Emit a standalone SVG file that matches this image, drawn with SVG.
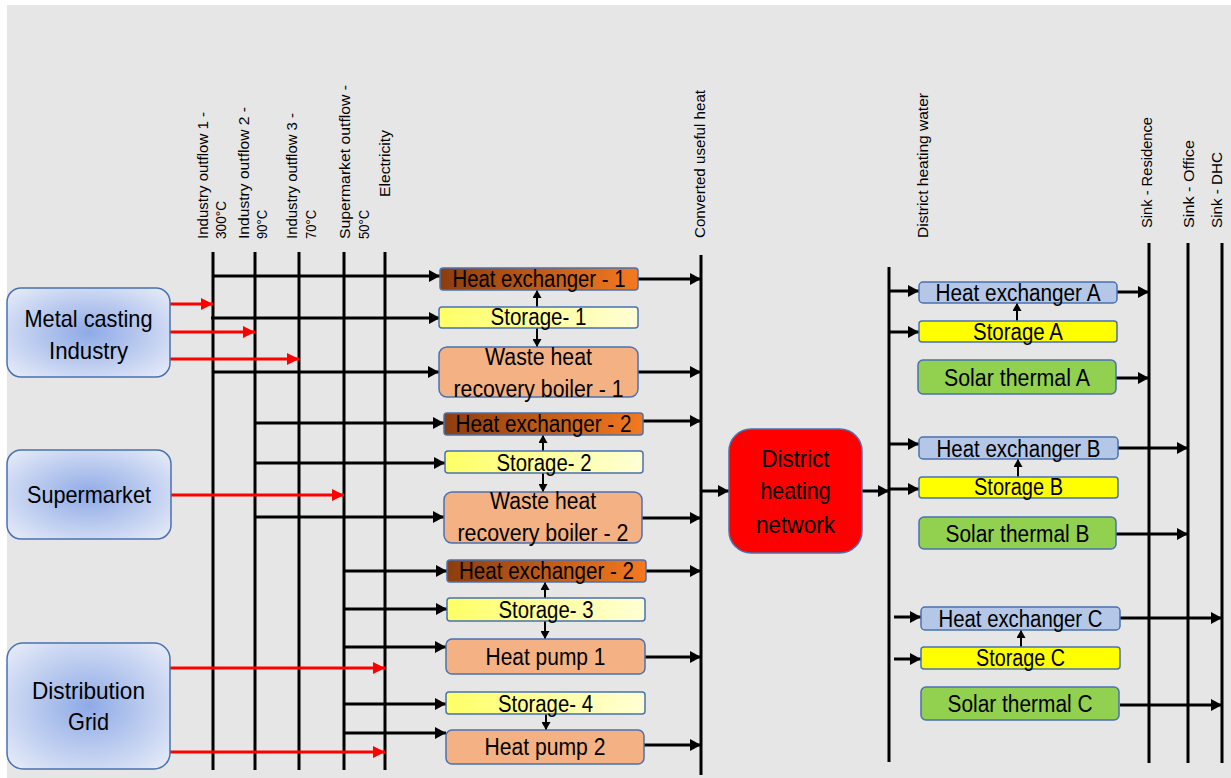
<svg xmlns="http://www.w3.org/2000/svg" width="1231" height="778" viewBox="0 0 1231 778">
<style>
.lbl{font-family:"Liberation Sans",Arial,sans-serif;font-size:14px;fill:#000}
.t{font-family:"Liberation Sans",Arial,sans-serif;fill:#000;text-anchor:middle}
.t22{font-size:24px}
.t21{font-size:23px}
.t20{font-size:23px}
.bus{stroke:#000;stroke-width:3;fill:none}
.ab{stroke:#000;stroke-width:3;fill:none;marker-end:url(#mb)}
.ar{stroke:#ff0000;stroke-width:3;fill:none;marker-end:url(#mr)}
.as{stroke:#000;stroke-width:2;fill:none;marker-end:url(#ms)}
.nb{stroke:#4a72b0;stroke-width:1.5}
</style>
<defs>
<marker id="mb" markerUnits="userSpaceOnUse" markerWidth="12" markerHeight="12" refX="11" refY="6" orient="auto"><path d="M0,0 L11,6 L0,12 z" fill="#000"/></marker>
<marker id="mr" markerUnits="userSpaceOnUse" markerWidth="13" markerHeight="12" refX="12" refY="6" orient="auto"><path d="M0,0 L12,6 L0,12 z" fill="#ff0000"/></marker>
<marker id="ms" markerUnits="userSpaceOnUse" markerWidth="9" markerHeight="9" refX="8" refY="4.5" orient="auto"><path d="M0,0 L8,4.5 L0,9 z" fill="#000"/></marker>
<radialGradient id="gBlue" cx="50%" cy="50%" r="65%"><stop offset="0" stop-color="#8eaae6"/><stop offset="1" stop-color="#e2e8f7"/></radialGradient>
<linearGradient id="gHx" x1="0" y1="0" x2="1" y2="0"><stop offset="0" stop-color="#8c3d0e"/><stop offset="1" stop-color="#f47920"/></linearGradient>
<linearGradient id="gSt" x1="0" y1="0" x2="1" y2="0"><stop offset="0" stop-color="#ffff66"/><stop offset="1" stop-color="#ffffd6"/></linearGradient>
</defs>
<rect x="7" y="5" width="1224" height="773" fill="#e7e6e6"/>

<g id="labels">
<text class="lbl" transform="translate(208,239) rotate(-90)" textLength="127" lengthAdjust="spacingAndGlyphs">Industry outflow 1 -</text>
<text class="lbl" transform="translate(226,239) rotate(-90)" textLength="38" lengthAdjust="spacingAndGlyphs">300°C</text>
<text class="lbl" transform="translate(249,239) rotate(-90)" textLength="132" lengthAdjust="spacingAndGlyphs">Industry outflow 2 -</text>
<text class="lbl" transform="translate(267,239) rotate(-90)" textLength="29" lengthAdjust="spacingAndGlyphs">90°C</text>
<text class="lbl" transform="translate(297,239) rotate(-90)" textLength="126" lengthAdjust="spacingAndGlyphs">Industry outflow 3 -</text>
<text class="lbl" transform="translate(316,239) rotate(-90)" textLength="29" lengthAdjust="spacingAndGlyphs">70°C</text>
<text class="lbl" transform="translate(350,239) rotate(-90)" textLength="154" lengthAdjust="spacingAndGlyphs">Supermarket outflow -</text>
<text class="lbl" transform="translate(369,239) rotate(-90)" textLength="29" lengthAdjust="spacingAndGlyphs">50°C</text>
<text class="lbl" transform="translate(390,197) rotate(-90)" textLength="67" lengthAdjust="spacingAndGlyphs">Electricity</text>
<text class="lbl" transform="translate(705,238) rotate(-90)" textLength="148" lengthAdjust="spacingAndGlyphs">Converted useful heat</text>
<text class="lbl" transform="translate(928,238) rotate(-90)" textLength="145" lengthAdjust="spacingAndGlyphs">District heating water</text>
<text class="lbl" transform="translate(1152,228) rotate(-90)" textLength="111" lengthAdjust="spacingAndGlyphs">Sink -  Residence</text>
<text class="lbl" transform="translate(1194,228) rotate(-90)" textLength="88" lengthAdjust="spacingAndGlyphs">Sink -  Office</text>
<text class="lbl" transform="translate(1222,228) rotate(-90)" textLength="76" lengthAdjust="spacingAndGlyphs">Sink -  DHC</text>
</g>

<g id="connectors">
<line class="bus" x1="213" y1="252" x2="213" y2="770"/>
<line class="bus" x1="255" y1="252" x2="255" y2="770"/>
<line class="bus" x1="299" y1="252" x2="299" y2="770"/>
<line class="bus" x1="344" y1="252" x2="344" y2="770"/>
<line class="bus" x1="385" y1="252" x2="385" y2="770"/>
<line class="bus" x1="701" y1="255" x2="701" y2="775"/>
<line class="bus" x1="889" y1="267" x2="889" y2="762"/>
<line class="bus" x1="1149" y1="243" x2="1149" y2="763"/>
<line class="bus" x1="1188" y1="243" x2="1188" y2="763"/>
<line class="bus" x1="1222" y1="243" x2="1222" y2="763"/>

<line class="ar" x1="170" y1="304" x2="213" y2="304"/>
<line class="ar" x1="170" y1="332" x2="255" y2="332"/>
<line class="ar" x1="170" y1="359" x2="299" y2="359"/>
<line class="ar" x1="171" y1="495" x2="344" y2="495"/>
<line class="ar" x1="170" y1="668" x2="385" y2="668"/>
<line class="ar" x1="170" y1="752" x2="385" y2="752"/>

<line class="ab" x1="213" y1="276" x2="440" y2="276"/>
<line class="ab" x1="211" y1="318" x2="440" y2="318"/>
<line class="ab" x1="213" y1="372" x2="439" y2="372"/>
<line class="ab" x1="255" y1="423" x2="444" y2="423"/>
<line class="ab" x1="255" y1="463" x2="445" y2="463"/>
<line class="ab" x1="255" y1="517" x2="444" y2="517"/>
<line class="ab" x1="344" y1="571" x2="447" y2="571"/>
<line class="ab" x1="344" y1="609" x2="447" y2="609"/>
<line class="ab" x1="344" y1="647" x2="446" y2="647"/>
<line class="ab" x1="344" y1="704" x2="446" y2="704"/>
<line class="ab" x1="344" y1="733" x2="446" y2="733"/>

<line class="ab" x1="638" y1="279" x2="701" y2="279"/>
<line class="ab" x1="638" y1="372" x2="701" y2="372"/>
<line class="ab" x1="643" y1="421" x2="701" y2="421"/>
<line class="ab" x1="642" y1="518" x2="701" y2="518"/>
<line class="ab" x1="646" y1="571" x2="701" y2="571"/>
<line class="ab" x1="645" y1="657" x2="701" y2="657"/>
<line class="ab" x1="644" y1="745" x2="701" y2="745"/>

<line class="as" x1="537" y1="307" x2="537" y2="290"/>
<line class="as" x1="537" y1="326" x2="537" y2="347"/>
<line class="as" x1="543" y1="452" x2="543" y2="435"/>
<line class="as" x1="543" y1="471" x2="543" y2="492"/>
<line class="as" x1="545" y1="599" x2="545" y2="582"/>
<line class="as" x1="545" y1="619" x2="545" y2="639"/>
<line class="as" x1="546" y1="712" x2="546" y2="730"/>

<line class="ab" x1="701" y1="491" x2="729" y2="491"/>
<line class="ab" x1="862" y1="491" x2="889" y2="491"/>

<line class="ab" x1="889" y1="291" x2="919" y2="291"/>
<line class="ab" x1="889" y1="332" x2="919" y2="332"/>
<line class="ab" x1="889" y1="444" x2="919" y2="444"/>
<line class="ab" x1="889" y1="489" x2="919" y2="489"/>
<line class="ab" x1="894" y1="617" x2="921" y2="617"/>
<line class="ab" x1="894" y1="659" x2="921" y2="659"/>

<line class="ab" x1="1117" y1="292" x2="1149" y2="292"/>
<line class="ab" x1="1116" y1="378" x2="1149" y2="378"/>
<line class="ab" x1="1118" y1="448" x2="1188" y2="448"/>
<line class="ab" x1="1116" y1="534" x2="1188" y2="534"/>
<line class="ab" x1="1120" y1="618" x2="1222" y2="618"/>
<line class="ab" x1="1120" y1="705" x2="1222" y2="705"/>

<line class="as" x1="1017" y1="321" x2="1017" y2="303"/>
<line class="as" x1="1018" y1="477" x2="1018" y2="459"/>
<line class="as" x1="1021" y1="647" x2="1021" y2="630"/>
</g>

<g id="metal-casting">
<rect class="nb" x="7" y="288" width="163" height="89" rx="14" fill="url(#gBlue)"/>
<text class="t t22" x="88.5" y="327" textLength="128" lengthAdjust="spacingAndGlyphs">Metal casting</text>
<text class="t t22" x="88.5" y="359" textLength="79" lengthAdjust="spacingAndGlyphs">Industry</text>
</g>
<g id="supermarket">
<rect class="nb" x="7" y="450" width="164" height="89" rx="14" fill="url(#gBlue)"/>
<text class="t t22" x="89" y="503" textLength="124" lengthAdjust="spacingAndGlyphs">Supermarket</text>
</g>
<g id="distribution-grid">
<rect class="nb" x="7" y="643" width="163" height="126" rx="16" fill="url(#gBlue)"/>
<text class="t t22" x="88.5" y="699" textLength="113" lengthAdjust="spacingAndGlyphs">Distribution</text>
<text class="t t22" x="88.5" y="730" textLength="41" lengthAdjust="spacingAndGlyphs">Grid</text>
</g>

<g id="hx1">
<rect class="nb" x="440" y="268" width="198" height="22" rx="3" fill="url(#gHx)"/>
<text class="t t20" x="539" y="287" textLength="173" lengthAdjust="spacingAndGlyphs">Heat exchanger - 1</text>
</g>
<g id="storage1">
<rect class="nb" x="439" y="307" width="199" height="21" rx="3" fill="url(#gSt)"/>
<text class="t t20" x="538.5" y="325" textLength="96" lengthAdjust="spacingAndGlyphs">Storage- 1</text>
</g>
<g id="whrb1">
<rect class="nb" x="439" y="347" width="199" height="50" rx="8" fill="#f4b183"/>
<text class="t t21" x="538.5" y="365" textLength="107" lengthAdjust="spacingAndGlyphs">Waste heat</text>
<text class="t t21" x="538.5" y="397" textLength="170" lengthAdjust="spacingAndGlyphs">recovery boiler - 1</text>
</g>
<g id="hx2">
<rect class="nb" x="444" y="413" width="199" height="22" rx="3" fill="url(#gHx)"/>
<text class="t t20" x="543.5" y="432" textLength="176" lengthAdjust="spacingAndGlyphs">Heat exchanger - 2</text>
</g>
<g id="storage2">
<rect class="nb" x="445" y="451" width="198" height="22" rx="3" fill="url(#gSt)"/>
<text class="t t20" x="544" y="471" textLength="95" lengthAdjust="spacingAndGlyphs">Storage- 2</text>
</g>
<g id="whrb2">
<rect class="nb" x="444" y="492" width="198" height="51" rx="8" fill="#f4b183"/>
<text class="t t21" x="543" y="509" textLength="106" lengthAdjust="spacingAndGlyphs">Waste heat</text>
<text class="t t21" x="543" y="541" textLength="171" lengthAdjust="spacingAndGlyphs">recovery boiler - 2</text>
</g>
<g id="hx3">
<rect class="nb" x="447" y="560" width="199" height="22" rx="3" fill="url(#gHx)"/>
<text class="t t20" x="546.5" y="579" textLength="175" lengthAdjust="spacingAndGlyphs">Heat exchanger - 2</text>
</g>
<g id="storage3">
<rect class="nb" x="447" y="598" width="198" height="23" rx="3" fill="url(#gSt)"/>
<text class="t t20" x="546" y="618" textLength="95" lengthAdjust="spacingAndGlyphs">Storage- 3</text>
</g>
<g id="heat-pump1">
<rect class="nb" x="446" y="639" width="199" height="35" rx="6" fill="#f4b183"/>
<text class="t t21" x="545.5" y="665" textLength="120" lengthAdjust="spacingAndGlyphs">Heat pump 1</text>
</g>
<g id="storage4">
<rect class="nb" x="446" y="692" width="199" height="22" rx="3" fill="url(#gSt)"/>
<text class="t t20" x="545.5" y="712" textLength="95" lengthAdjust="spacingAndGlyphs">Storage- 4</text>
</g>
<g id="heat-pump2">
<rect class="nb" x="446" y="730" width="198" height="34" rx="6" fill="#f4b183"/>
<text class="t t21" x="545" y="755" textLength="121" lengthAdjust="spacingAndGlyphs">Heat pump 2</text>
</g>

<g id="district-heating-network">
<rect class="nb" x="729" y="429" width="133" height="124" rx="22" fill="#ff0000"/>
<text class="t t22" x="795.5" y="467" textLength="68" lengthAdjust="spacingAndGlyphs">District</text>
<text class="t t22" x="795.5" y="499" textLength="70" lengthAdjust="spacingAndGlyphs">heating</text>
<text class="t t22" x="795.5" y="533" textLength="79" lengthAdjust="spacingAndGlyphs">network</text>
</g>

<g id="hx-a">
<rect class="nb" x="919" y="282" width="198" height="21" rx="4" fill="#b4c7e7"/>
<text class="t t21" x="1018" y="301" textLength="165" lengthAdjust="spacingAndGlyphs">Heat exchanger A</text>
</g>
<g id="storage-a">
<rect class="nb" x="919" y="321" width="198" height="21" rx="3" fill="#ffff00"/>
<text class="t t21" x="1018" y="340" textLength="90" lengthAdjust="spacingAndGlyphs">Storage A</text>
</g>
<g id="solar-a">
<rect class="nb" x="918" y="360" width="198" height="34" rx="5" fill="#92d050"/>
<text class="t t21" x="1017" y="386" textLength="146" lengthAdjust="spacingAndGlyphs">Solar thermal A</text>
</g>
<g id="hx-b">
<rect class="nb" x="919" y="437" width="199" height="22" rx="4" fill="#b4c7e7"/>
<text class="t t21" x="1018.5" y="457" textLength="164" lengthAdjust="spacingAndGlyphs">Heat exchanger B</text>
</g>
<g id="storage-b">
<rect class="nb" x="919" y="477" width="199" height="21" rx="3" fill="#ffff00"/>
<text class="t t21" x="1018.5" y="495" textLength="89" lengthAdjust="spacingAndGlyphs">Storage B</text>
</g>
<g id="solar-b">
<rect class="nb" x="919" y="517" width="197" height="32" rx="5" fill="#92d050"/>
<text class="t t21" x="1017.5" y="542" textLength="144" lengthAdjust="spacingAndGlyphs">Solar thermal B</text>
</g>
<g id="hx-c">
<rect class="nb" x="921" y="607" width="199" height="23" rx="4" fill="#b4c7e7"/>
<text class="t t21" x="1020.5" y="627" textLength="164" lengthAdjust="spacingAndGlyphs">Heat exchanger C</text>
</g>
<g id="storage-c">
<rect class="nb" x="921" y="647" width="199" height="22" rx="3" fill="#ffff00"/>
<text class="t t21" x="1020.5" y="666" textLength="89" lengthAdjust="spacingAndGlyphs">Storage C</text>
</g>
<g id="solar-c">
<rect class="nb" x="921" y="687" width="198" height="33" rx="5" fill="#92d050"/>
<text class="t t21" x="1020" y="712" textLength="145" lengthAdjust="spacingAndGlyphs">Solar thermal C</text>
</g>
</svg>
